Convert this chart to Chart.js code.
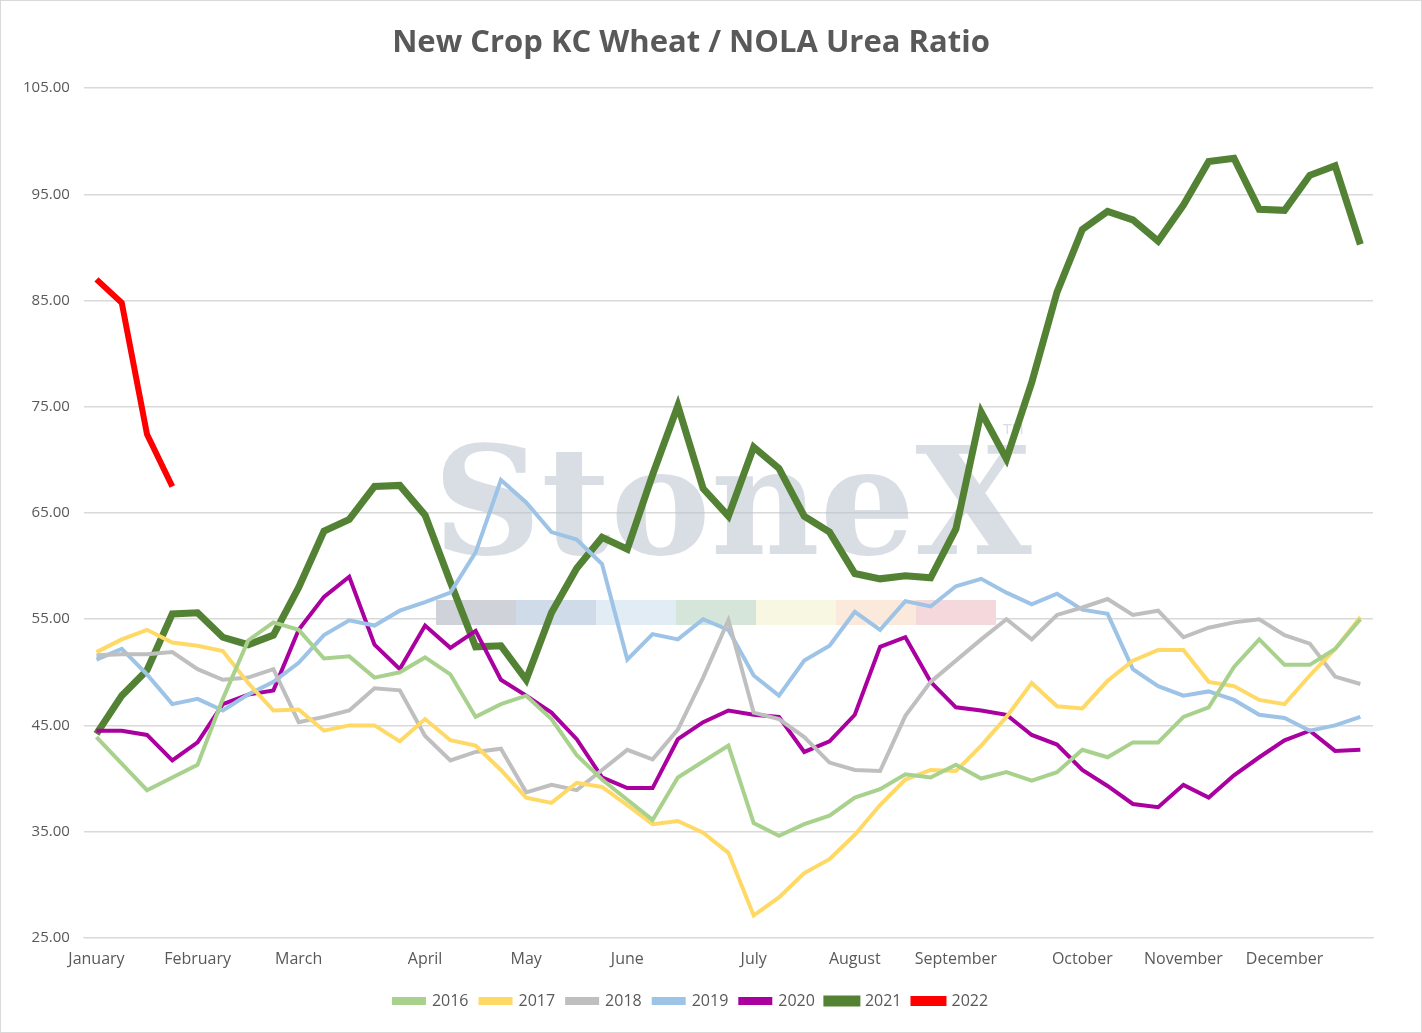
<!DOCTYPE html>
<html>
<head>
<meta charset="utf-8">
<script src="https://cdn.jsdelivr.net/npm/chart.js@4.4.0/dist/chart.umd.min.js"></script>
<style>
  body { margin: 0; background: #fff; }
  .wrap { position: relative; width: 1420px; height: 1031px; border: 1px solid #d9d9d9; }
</style>
</head>
<body>
<div class="wrap"><canvas id="myChart" width="1420" height="1031"></canvas></div>
<script>
const monthNames = ["January", "February", "March", "April", "May", "June", "July", "August", "September", "October", "November", "December"];
const monthWeeks = [0, 4, 8, 13, 17, 21, 26, 30, 34, 39, 43, 47];

const y2016 = [43.9,41.4,38.9,40.1,41.3,47.5,53,54.7,54,51.3,51.5,49.5,50,51.4,49.8,45.8,47,47.8,45.6,42.2,39.9,38,36.1,40.1,41.6,43.1,35.8,34.6,35.7,36.5,38.2,39,40.4,40.1,41.3,40,40.6,39.8,40.6,42.7,42,43.4,43.4,45.8,46.7,50.5,53.1,50.7,50.7,52.2,55];
const y2017 = [51.9,53.1,54,52.8,52.5,52,49,46.4,46.5,44.5,45,45,43.5,45.6,43.6,43.1,40.8,38.2,37.7,39.6,39.2,37.5,35.7,36,34.9,33,27.1,28.8,31.1,32.4,34.7,37.5,39.9,40.8,40.7,43.1,45.8,49,46.8,46.6,49.2,51.1,52.1,52.1,49.1,48.7,47.4,47,49.7,52.2,55.2];
const y2018 = [51.6,51.7,51.7,51.9,50.3,49.3,49.5,50.3,45.3,45.8,46.4,48.5,48.3,44,41.7,42.5,42.8,38.7,39.4,38.9,40.8,42.7,41.8,44.6,49.5,54.9,46.2,45.6,43.9,41.5,40.8,40.7,45.9,49.1,51.1,53.1,55,53.1,55.4,56.1,56.9,55.4,55.8,53.3,54.2,54.7,55,53.5,52.7,49.6,48.9];
const y2019 = [51.2,52.2,49.8,47,47.5,46.4,47.9,49.1,50.9,53.5,54.9,54.4,55.8,56.6,57.5,61.3,68.1,66,63.2,62.5,60.2,51.2,53.6,53.1,55,54,49.7,47.8,51.1,52.5,55.7,54,56.7,56.2,58.1,58.8,57.5,56.4,57.4,55.9,55.5,50.3,48.7,47.8,48.2,47.4,46,45.7,44.5,45,45.8];
const y2020 = [44.5,44.5,44.1,41.7,43.4,47,47.9,48.3,54,57.1,59,52.6,50.3,54.4,52.3,53.9,49.3,47.8,46.2,43.7,40.1,39.1,39.1,43.7,45.3,46.4,46,45.8,42.5,43.5,46,52.4,53.3,49.1,46.7,46.4,46,44.1,43.2,40.8,39.3,37.6,37.3,39.4,38.2,40.3,42,43.6,44.5,42.6,42.7];
const y2021 = [44.2,47.8,50.2,55.5,55.6,53.3,52.6,53.5,58,63.3,64.4,67.5,67.6,64.8,58.5,52.4,52.5,49.3,55.6,59.8,62.7,61.6,68.6,75.1,67.3,64.7,71.2,69.2,64.7,63.2,59.3,58.8,59.1,58.9,63.5,74.5,70.1,77.3,85.8,91.7,93.4,92.6,90.6,94,98.1,98.4,93.6,93.5,96.8,97.7,90.3];
const y2022 = [87,84.8,72.4,67.5];

const labels = y2021.map(() => "");
monthWeeks.forEach((w, i) => { labels[w] = monthNames[i]; });

const ctx = document.getElementById("myChart");

// faint StoneX watermark behind the lines
const watermark = {
  id: "watermark",
  beforeDatasetsDraw(chart) {
    const c = chart.ctx;
    c.save();
    c.fillStyle = "rgba(185,193,205,0.55)";
    c.font = "bold 150px 'DejaVu Serif', serif";
    c.textBaseline = "alphabetic";
    c.fillText("StoneX", 432, 553);
    c.font = "14px 'DejaVu Sans'";
    c.fillText("TM", 1002, 433);
    const bands = ["#cfd2d9", "#cfdbe8", "#e1ecf5", "#d5e5da", "#f8f7e2", "#fbeadb", "#f4d8db"];
    bands.forEach((col, i) => {
      c.fillStyle = col;
      c.fillRect(435 + i * 80, 599, 80, 25);
    });
    c.restore();
  },
};

const line = (label, data, color, width) => ({
  label, data, borderColor: color, backgroundColor: color,
  borderWidth: width, pointRadius: 0, tension: 0, fill: false,
});

new Chart(ctx, {
  type: "line",
  data: {
    labels: labels,
    datasets: [
      line("2016", y2016, "#A9D18E", 4),
      line("2017", y2017, "#FFD966", 4),
      line("2018", y2018, "#BFBFBF", 4),
      line("2019", y2019, "#9DC3E6", 4),
      line("2020", y2020, "#AA00A0", 4),
      line("2021", y2021, "#548235", 7),
      line("2022", y2022, "#FF0000", 6),
    ],
  },
  options: {
    responsive: false,
    animation: false,
    layout: { padding: { left: 8, right: 48, top: 16, bottom: 13 } },
    plugins: {
      title: {
        display: true,
        text: "New Crop KC Wheat / NOLA Urea Ratio",
        color: "#595959",
        font: { family: "'Open Sans', sans-serif", size: 31, weight: "bold" },
        padding: { top: 8, bottom: 26 },
      },
      legend: {
        position: "bottom",
        labels: { color: "#595959", font: { family: "'Open Sans'", size: 16 }, boxWidth: 30, boxHeight: 4, padding: 12 },
      },
      tooltip: { enabled: false },
    },
    scales: {
      x: {
        offset: true,
        grid: { display: false, drawTicks: false },
        border: { color: "#d9d9d9" },
        ticks: { color: "#595959", font: { family: "'Open Sans'", size: 16 }, autoSkip: false, maxRotation: 0, padding: 12 },
      },
      y: {
        min: 25, max: 105,
        grid: { color: "#d9d9d9", lineWidth: 1.5, drawTicks: false },
        border: { display: false },
        ticks: { stepSize: 10, color: "#595959", font: { family: "'Open Sans'", size: 15 }, padding: 14, callback: (v) => v.toFixed(2) },
      },
    },
  },
  plugins: [watermark],
});
</script>
</body>
</html>
